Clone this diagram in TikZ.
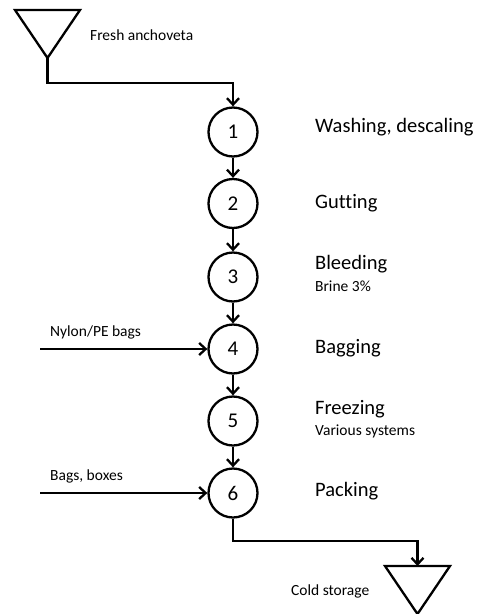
\documentclass[tikz,border=0pt]{standalone}
\usepackage{fontspec}
\setmainfont{Carlito}[Ligatures=NoCommon]
\usetikzlibrary{arrows.meta}
\begin{document}
\begin{tikzpicture}[x=1pt,y=-1pt,
  line width=2.3pt,
  stepnode/.style={circle,draw,minimum size=49pt,inner sep=0pt,font=\fontsize{21}{24}\selectfont},
  lab/.style={anchor=west,inner sep=0pt,font=\fontsize{20.5}{24}\selectfont},
  sub/.style={anchor=west,inner sep=0pt,font=\fontsize{15.5}{18}\selectfont},
  arr/.style={-{Straight Barb[length=6.5pt,width=12pt]}}]
\useasboundingbox (0,0) rectangle (477,614);
% source triangle
\draw (15,10) -- (80,10) -- (47.5,58) -- cycle;
\coordinate (src) at (47.5,58);
\node[sub,anchor=west] (fresh) at (89,35) {Fresh anchoveta};
% steps
\node[stepnode] (s1) at (233,132) {1};
\node[stepnode] (s2) at (233,203.5) {2};
\node[stepnode] (s3) at (233,277) {3};
\node[stepnode] (s4) at (233,349) {4};
\node[stepnode] (s5) at (233,421) {5};
\node[stepnode] (s6) at (233,493) {6};
\node[lab] (l1) at (314,127) {Washing, descaling};
\node[lab] (l2) at (314,203) {Gutting};
\node[lab] (l3) at (314,264) {Bleeding};
\node[sub] (l3b) at (314,286) {Brine 3\%};
\node[lab] (l4) at (314,348) {Bagging};
\node[lab] (l5) at (314,409) {Freezing};
\node[sub] (l5b) at (314,431) {Various systems};
\node[lab] (l6) at (314,491) {Packing};
% sink triangle
\draw (385,566) -- (450,566) -- (417.5,614) -- cycle;
\coordinate (sinktop) at (417.5,566);
\node[sub] (cold) at (290,591) {Cold storage};
% connectors
\draw[arr] (src) |- (233,83) -- (s1.north);
\draw[arr] (s1) -- (s2);
\draw[arr] (s2) -- (s3);
\draw[arr] (s3) -- (s4);
\draw[arr] (s4) -- (s5);
\draw[arr] (s5) -- (s6);
\draw[arr] (s6.south) |- (417.5,541) -- (sinktop);
% inputs
\coordinate (in4) at (40,349);
\coordinate (in6) at (40,493);
\node[sub] (nylon) at (49,332) {Nylon/PE bags};
\node[sub] (bags) at (49,476) {Bags, boxes};
\draw[arr] (in4) -- (s4.west);
\draw[arr] (in6) -- (s6.west);
\end{tikzpicture}
\end{document}
